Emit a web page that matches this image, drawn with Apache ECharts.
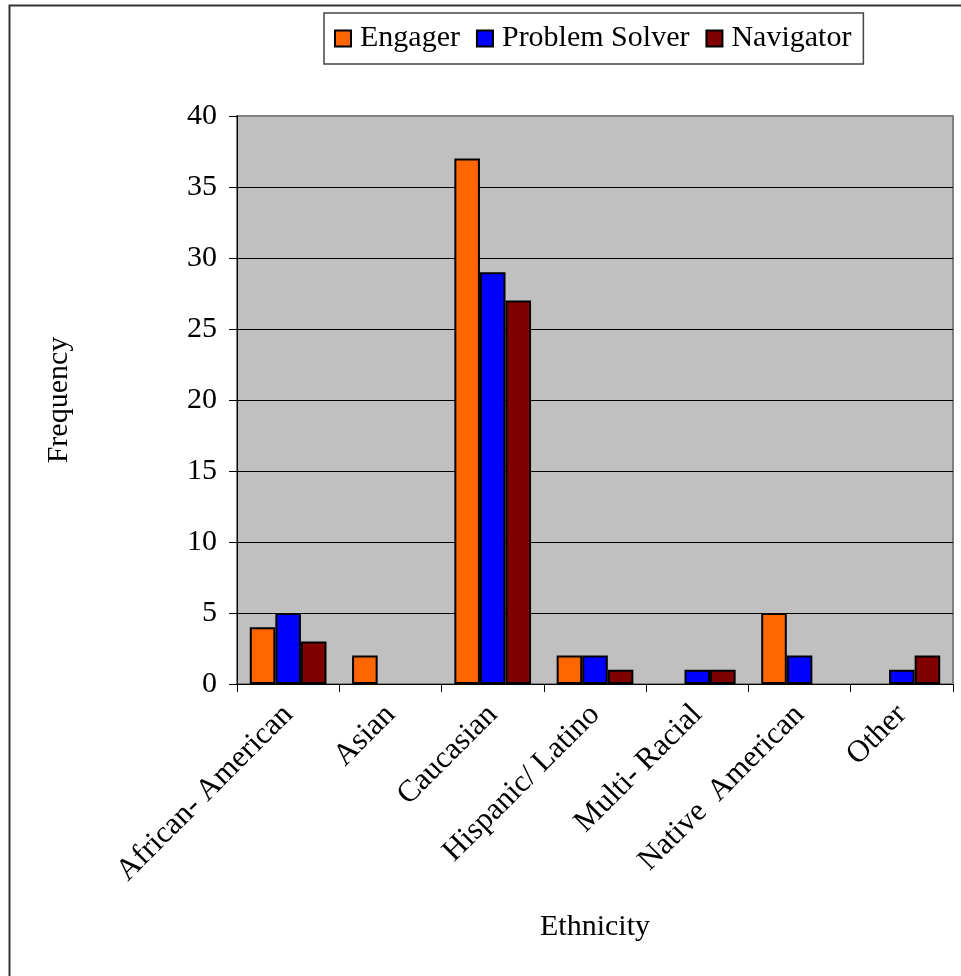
<!DOCTYPE html>
<html>
<head>
<meta charset="utf-8">
<script src="https://cdn.jsdelivr.net/npm/echarts@6/dist/echarts.min.js"></script>
<style>
  html, body { margin: 0; padding: 0; background: #fff; }
  #chart { width: 961px; height: 976px; }
</style>
</head>
<body>
<div id="chart"></div>
<script>
// Frequency of each ethnicity group by role type
const categories = ['African- American', 'Asian', 'Caucasian', 'Hispanic/ Latino', 'Multi- Racial', 'Native  American', 'Other'];
const engager = [4, 2, 37, 2, 0, 5, 0];
const problemSolver = [5, 0, 29, 2, 1, 2, 1];
const navigator = [3, 0, 27, 1, 1, 0, 2];
const yTicks = { min: 0, max: 40, interval: 5 };

const serif = 'Liberation Serif';
const fontSize = 30;
const chart = echarts.init(document.getElementById('chart'), null, { renderer: 'canvas' });

function barSeries(name, data, color) {
  return {
    name: name,
    type: 'bar',
    // empty counts get no outline, so nothing is drawn for them
    data: data.map(v => v === 0 ? { value: v, itemStyle: { borderWidth: 0 } } : v),
    barGap: '0%',
    barCategoryGap: '25%',
    itemStyle: { color: color, borderColor: '#000', borderWidth: 2 }
  };
}

// gridlines are black, except the top one which sits on the grey plot border
const lineCount = (yTicks.max - yTicks.min) / yTicks.interval + 1;
const gridColors = [];
for (let i = 0; i < lineCount; i++) gridColors.push(i === lineCount - 1 ? '#808080' : '#000');

chart.setOption({
  animation: false,
  backgroundColor: '#fff',
  textStyle: { fontFamily: serif, color: '#000' },
  graphic: [{
    type: 'rect',
    shape: { x: 9.5, y: 5.5, width: 1000, height: 1000 },
    style: { fill: null, stroke: '#333', lineWidth: 2 },
    z: 100
  }],
  legend: {
    left: 324,
    top: 13,
    padding: [10, 12, 10, 10],
    borderColor: '#444',
    borderWidth: 1.5,
    borderRadius: 0,
    icon: 'rect',
    itemWidth: 16,
    itemHeight: 16,
    itemGap: 16,
    textStyle: { fontFamily: serif, fontSize: fontSize, color: '#000', lineHeight: 31, padding: [0, 0, 0, 4] },
    data: ['Engager', 'Problem Solver', 'Navigator']
  },
  grid: {
    left: 237,
    right: 8,
    top: 116,
    bottom: 292,
    show: true,
    backgroundColor: '#c0c0c0',
    borderColor: '#808080',
    borderWidth: 2
  },
  xAxis: {
    type: 'category',
    data: categories,
    name: 'Ethnicity',
    nameLocation: 'middle',
    nameGap: 228,
    nameTextStyle: { fontFamily: serif, fontSize: fontSize, color: '#000' },
    axisLine: { lineStyle: { color: '#000', width: 1 } },
    axisTick: { show: true, length: 8, lineStyle: { color: '#000' } },
    axisLabel: {
      rotate: 45,
      margin: 26,
      fontFamily: serif,
      fontSize: 31,
      color: '#000'
    }
  },
  yAxis: {
    type: 'value',
    min: yTicks.min,
    max: yTicks.max,
    interval: yTicks.interval,
    name: 'Frequency',
    nameLocation: 'middle',
    nameGap: 163,
    nameRotate: 90,
    nameTextStyle: { fontFamily: serif, fontSize: fontSize, color: '#000' },
    axisLine: { show: true, lineStyle: { color: '#000', width: 1 } },
    axisTick: { show: true, length: 8, lineStyle: { color: '#000' } },
    axisLabel: { margin: 20, fontFamily: serif, fontSize: fontSize, color: '#000' },
    splitLine: { show: true, lineStyle: { color: gridColors, width: 1 } }
  },
  series: [
    barSeries('Engager', engager, '#ff6600'),
    barSeries('Problem Solver', problemSolver, '#0000ff'),
    barSeries('Navigator', navigator, '#800000')
  ]
});
</script>
</body>
</html>
